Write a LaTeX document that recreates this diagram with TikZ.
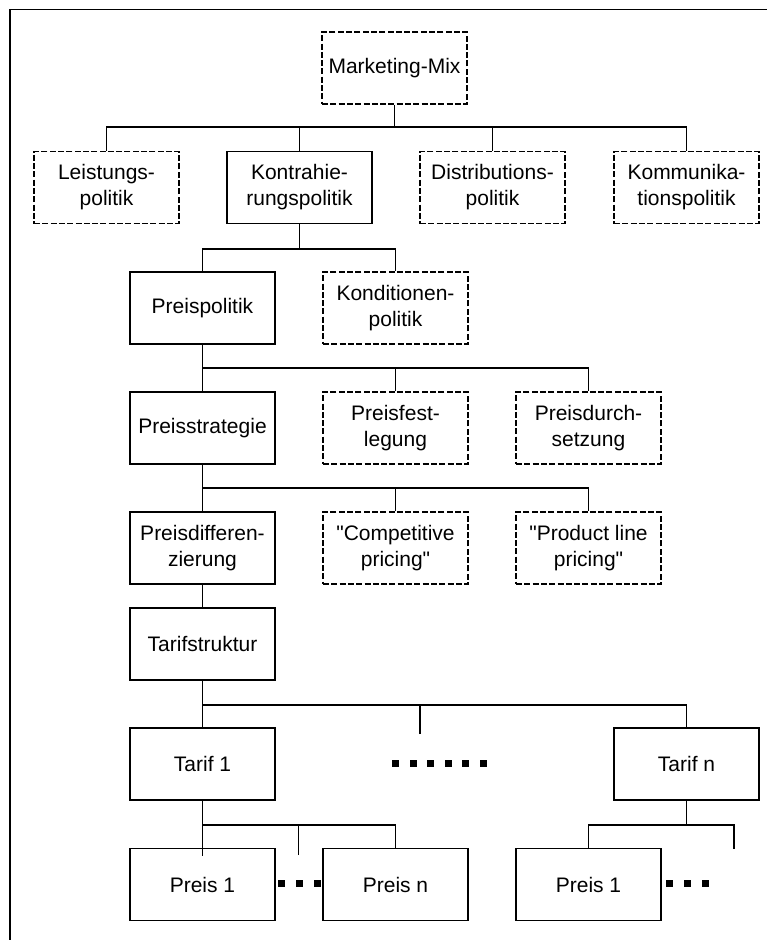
\documentclass[tikz,border=0pt]{standalone}
\usepackage{fontspec}
\setmainfont{Liberation Sans}
\newfontfamily\arialfam{Liberation Sans}
\tikzset{
  box/.style={draw, line width=1.6pt, minimum width=145pt, minimum height=72pt, inner sep=0pt, align=center, font=\arialfam\fontsize{21}{26}\selectfont},
  dbox/.style={box, line width=1.5pt, dash pattern=on 6pt off 2.3pt},
  conn/.style={line width=1.6pt},
  dot/.style={fill=black},
}
\begin{document}
\begin{tikzpicture}[x=1pt,y=-1pt]
\useasboundingbox (0,0) rectangle (767,940);
% frame
\draw[line width=1.8pt] (10,940) -- (10,9.5) -- (767,9.5);
% nodes
\node[dbox] (mm) at (394.5,68) {Marketing-Mix};
\node[dbox] (lp) at (106.5,187.5) {Leistungs-\\politik};
\node[box] (kp) at (299.5,187.5) {Kontrahie-\\rungspolitik};
\node[dbox] (dp) at (492.5,187.5) {Distributions-\\politik};
\node[dbox] (km) at (686.5,187.5) {Kommunika-\\tionspolitik};
\node[box] (pp) at (202.5,308) {Preispolitik};
\node[dbox] (kd) at (395.5,308) {Konditionen-\\politik};
\node[box] (ps) at (202.5,428) {Preisstrategie};
\node[dbox] (pf) at (395.5,428) {Preisfest-\\legung};
\node[dbox] (pd) at (588.5,428) {Preisdurch-\\setzung};
\node[box] (pz) at (202.5,548) {Preisdifferen-\\zierung};
\node[dbox] (cp) at (395.5,548) {"Competitive\\pricing"};
\node[dbox] (pl) at (588.5,548) {"Product line\\pricing"};
\node[box] (ts) at (202.5,644) {Tarifstruktur};
\node[box] (t1) at (202.5,764) {Tarif 1};
\node[box] (tn) at (686.5,764) {Tarif n};
\node[box] (pa) at (202.5,884.5) {Preis 1};
\node[box] (pb) at (395.5,884.5) {Preis n};
\node[box] (pc) at (588.5,884.5) {Preis 1};
% bus coordinates
\coordinate (b1) at (0,127);
\coordinate (b2) at (0,249);
\coordinate (b3) at (0,368);
\coordinate (b4) at (0,488);
\coordinate (b5) at (0,705);
\coordinate (b6) at (0,825);
\coordinate (s5) at (420,734);
\coordinate (s6) at (298.5,855);
\coordinate (s7) at (734,849);
% connectors
\draw[conn] (mm.south) -- (mm.south|-b1);
\draw[conn] (lp.north) -- (lp.north|-b1) -- (km.north|-b1) -- (km.north);
\draw[conn] (kp.north) -- (kp.north|-b1);
\draw[conn] (dp.north) -- (dp.north|-b1);
\draw[conn] (kp.south) -- (kp.south|-b2);
\draw[conn] (pp.north) -- (pp.north|-b2) -- (kd.north|-b2) -- (kd.north);
\draw[conn] (pp.south) -- (pp.south|-b3);
\draw[conn] (ps.north) -- (ps.north|-b3) -- (pd.north|-b3) -- (pd.north);
\draw[conn] (pf.north) -- (pf.north|-b3);
\draw[conn] (ps.south) -- (ps.south|-b4);
\draw[conn] (pz.north) -- (pz.north|-b4) -- (pl.north|-b4) -- (pl.north);
\draw[conn] (cp.north) -- (cp.north|-b4);
\draw[conn] (pz.south) -- (ts.north);
\draw[conn] (ts.south) -- (ts.south|-b5);
\draw[conn] (t1.north) -- (t1.north|-b5) -- (tn.north|-b5) -- (tn.north);
\draw[conn] (s5) -- (s5|-b5);
\draw[conn] (t1.south) -- (t1.south|-b6);
\draw[conn] ([yshift=-8pt]pa.north) -- (pa.north|-b6) -- (pb.north|-b6) -- (pb.north);
\draw[conn] (s6) -- (s6|-b6);
\draw[conn] (tn.south) -- (tn.south|-b6);
\draw[conn] (pc.north) -- (pc.north|-b6) -- (s7|-b6) -- (s7);
% dots
\foreach \i in {0,...,5} \fill[dot] ({392+17.6*\i},760) rectangle ++(7,6.5);
\foreach \i in {0,...,2} \fill[dot] ({278+18*\i},880) rectangle ++(7,7);
\foreach \i in {0,...,2} \fill[dot] ({666+18*\i},880) rectangle ++(7,7);
\end{tikzpicture}
\end{document}
